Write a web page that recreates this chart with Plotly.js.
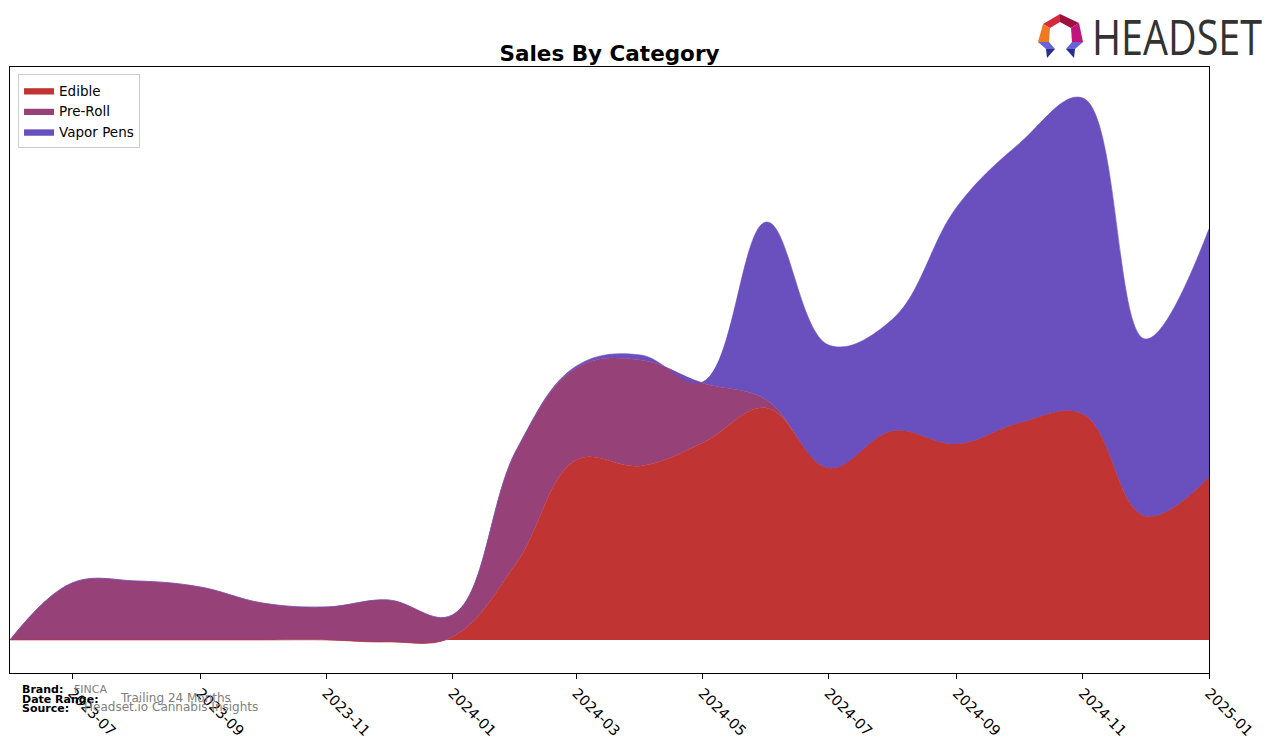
<!DOCTYPE html>
<html>
<head>
<meta charset="utf-8">
<script src="https://cdn.plot.ly/plotly-3.0.1.min.js"></script>
<style>
  html, body { margin: 0; padding: 0; background: #fff; }
  #wrap { position: relative; width: 1276px; height: 743px; }
  #chart { width: 1276px; height: 743px; }
  #logo { position: absolute; left: 1036px; top: 10px; width: 240px; height: 52px; pointer-events: none; }
  #logotext { position: absolute; left: 1092px; top: 9px; font-family: "Open Sans", "DejaVu Sans", sans-serif;
    font-size: 50px; color: #333333; letter-spacing: 0px; transform-origin: left top; transform: scaleX(0.79);
    line-height: 54px; white-space: nowrap; pointer-events: none; }
</style>
</head>
<body>
<div id="wrap">
  <div id="chart"></div>
  <svg id="logo" viewBox="1036 10 240 52" xmlns="http://www.w3.org/2000/svg">
    <polygon points="1043,24 1060,14 1060,22 1050,28" fill="#d42a3c"/>
    <polygon points="1060,14 1079,23 1071,28 1060,22" fill="#9e1240"/>
    <polygon points="1043,24 1050,28 1049,42 1038,42" fill="#f07a24"/>
    <polygon points="1079,23 1083,42 1072,42 1071,28" fill="#c0157c"/>
    <polygon points="1038,42 1049,42 1055,49 1046,49" fill="#6a62d8"/>
    <polygon points="1046,49 1055,49 1047,58" fill="#2c2c8c"/>
    <polygon points="1072,42 1083,42 1075,49 1066,49" fill="#6a62d8"/>
    <polygon points="1066,49 1075,49 1074,58" fill="#2c2c8c"/>
  </svg>
  <div id="logotext">HEADSET</div>
</div>
<script>
// Monthly dates
const months = ['2023-06-01','2023-07-01','2023-08-01','2023-09-01','2023-10-01','2023-11-01','2023-12-01',
  '2024-01-01','2024-02-01','2024-03-01','2024-04-01','2024-05-01','2024-06-01','2024-07-01','2024-08-01',
  '2024-09-01','2024-10-01','2024-11-01','2024-12-01','2025-01-01'];

// Series values (relative sales units)
const edible   = [0, 0, 0, 0, 0, 0, -2, 3, 77, 180, 174, 197, 232, 172, 209, 196, 217, 226, 124, 163];
const preRoll  = [0, 57, 59, 53, 37, 33, 42, 22, 113, 92, 106, 60, 8, 0, 0, 0, 0, 0, 0, 0];
const vaporPens= [0, 0, 0, 0, 0, 0, 0, 0, 0, 2, 5, 1, 178, 123, 112, 237, 279, 316, 177, 248];

const tickVals = ['2023-07-01','2023-09-01','2023-11-01','2024-01-01','2024-03-01','2024-05-01',
  '2024-07-01','2024-09-01','2024-11-01','2025-01-01'];
const tickText = ['2023-07','2023-09','2023-11','2024-01','2024-03','2024-05','2024-07','2024-09','2024-11','2025-01'];

const seriesNames = ['Edible', 'Pre-Roll', 'Vapor Pens'];
const seriesValues = [edible, preRoll, vaporPens];
const seriesColors = ['#c03434', '#964178', '#6a4fbe'];

const traces = seriesNames.map((name, i) => ({
  type: 'scatter',
  mode: 'lines',
  name: name,
  x: months,
  y: seriesValues[i],
  stackgroup: 'one',
  line: { shape: 'spline', smoothing: 1.1, width: 0.6, color: seriesColors[i] },
  fillcolor: seriesColors[i],
  hoverinfo: 'skip'
}));

const layout = {
  width: 1276, height: 743,
  margin: { l: 10, r: 67, t: 67, b: 70, pad: 0 },
  paper_bgcolor: '#ffffff',
  plot_bgcolor: '#ffffff',
  font: { family: 'DejaVu Sans, sans-serif', color: '#000000' },
  title: {
    text: '<b>Sales By Category</b>',
    font: { family: 'DejaVu Sans, sans-serif', size: 21.5, color: '#000000' },
    x: 0.5, xref: 'paper', xanchor: 'center',
    y: 1 - 53 / 743, yref: 'container', yanchor: 'middle'
  },
  showlegend: true,
  legend: {
    x: 0.0067, y: 0.988, xanchor: 'left', yanchor: 'top',
    bgcolor: '#ffffff', bordercolor: '#cccccc', borderwidth: 1,
    font: { family: 'DejaVu Sans, sans-serif', size: 13.5, color: '#000000' },
    traceorder: 'normal', tracegroupgap: 0
  },
  xaxis: {
    type: 'date',
    range: ['2023-06-01', '2025-01-01'],
    tickmode: 'array', tickvals: tickVals, ticktext: tickText,
    tickangle: 45,
    ticks: 'outside', ticklen: 5, tickwidth: 1, tickcolor: '#000000',
    tickfont: { family: 'DejaVu Sans, sans-serif', size: 14.5, color: '#000000' },
    showgrid: false, zeroline: false,
    showline: true, linecolor: '#000000', linewidth: 1, mirror: true
  },
  yaxis: {
    range: [-33, 573],
    showticklabels: false, ticks: '',
    showgrid: false, zeroline: false,
    showline: true, linecolor: '#000000', linewidth: 1, mirror: true
  },
  annotations: [
    { text: '<b>Brand:</b>', xref: 'paper', yref: 'paper', x: (20 - 10) / 1199, y: (673 - 689) / 606,
      xanchor: 'left', yanchor: 'middle', showarrow: false, font: { size: 11, color: '#000000' } },
    { text: 'FINCA', xref: 'paper', yref: 'paper', x: (72 - 10) / 1199, y: (673 - 689) / 606,
      xanchor: 'left', yanchor: 'middle', showarrow: false, font: { size: 11, color: '#808080' } },
    { text: '<b>Date Range:</b>', xref: 'paper', yref: 'paper', x: (20 - 10) / 1199, y: (673 - 699) / 606,
      xanchor: 'left', yanchor: 'middle', showarrow: false, font: { size: 11, color: '#000000' } },
    { text: 'Trailing 24 Months', xref: 'paper', yref: 'paper', x: (118 - 10) / 1199, y: (673 - 698) / 606,
      xanchor: 'left', yanchor: 'middle', showarrow: false, font: { size: 12, color: '#808080' } },
    { text: '<b>Source:</b>', xref: 'paper', yref: 'paper', x: (20 - 10) / 1199, y: (673 - 708) / 606,
      xanchor: 'left', yanchor: 'middle', showarrow: false, font: { size: 11, color: '#000000' } },
    { text: 'Headset.io Cannabis Insights', xref: 'paper', yref: 'paper', x: (82 - 10) / 1199, y: (673 - 707) / 606,
      xanchor: 'left', yanchor: 'middle', showarrow: false, font: { size: 12, color: '#808080' } }
  ]
};

Plotly.newPlot('chart', traces, layout, { displayModeBar: false, staticPlot: true });
</script>
</body>
</html>
